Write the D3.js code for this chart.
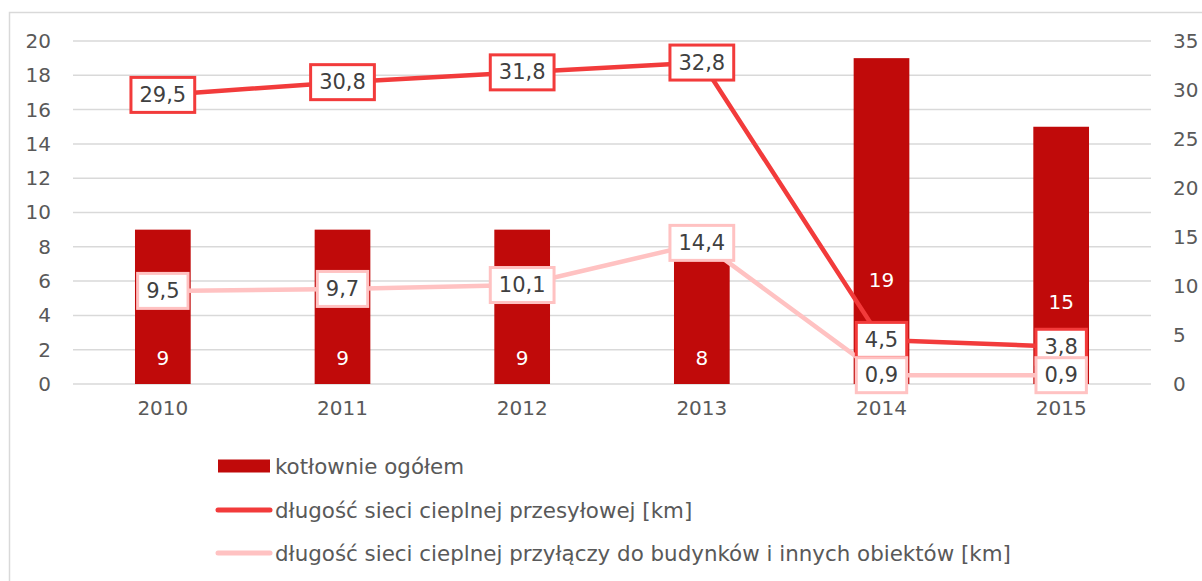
<!DOCTYPE html>
<html><head><meta charset="utf-8">
<script src="https://cdn.jsdelivr.net/npm/d3@7"></script>
<style>
html,body{margin:0;padding:0;background:#fff;}
svg text{font-family:"DejaVu Sans",Verdana,sans-serif;}
</style></head>
<body><svg id="c" width="1202" height="581"></svg>
<script>
const years = ["2010","2011","2012","2013","2014","2015"];
const kotlownie = [9, 9, 9, 8, 19, 15];
const siecPrzesylowa = [29.5, 30.8, 31.8, 32.8, 4.5, 3.8];
const siecPrzylacza = [9.5, 9.7, 10.1, 14.4, 0.9, 0.9];
const leftTicks = [0,2,4,6,8,10,12,14,16,18,20];
const rightTicks = [0,5,10,15,20,25,30,35];
const legendLabels = ["kotłownie ogółem","długość sieci cieplnej przesyłowej [km]","długość sieci cieplnej przyłączy do budynków i innych obiektów [km]"];

const fmt = v => String(v).replace(".", ",");
const svg = d3.select("#c");
const L = 73, R = 1151, T = 41, B = 384;
const colBar = "#C00A0A", colL1 = "#F23B3B", colL2 = "#FFC2C2";

svg.append("rect").attr("x",9.5).attr("y",12.5).attr("width",1200).attr("height",580)
  .attr("fill","none").attr("stroke","#D9D9D9").attr("stroke-width",1.5);

const x = d3.scaleBand().domain(years).range([L,R]).paddingInner(0.69).paddingOuter(0.345);
const yL = d3.scaleLinear().domain([0,20]).range([B,T]);
const yR = d3.scaleLinear().domain([0,35]).range([B,T]);

// gridlines
svg.append("g").selectAll("line").data(leftTicks).join("line")
  .attr("x1",L).attr("x2",R).attr("y1",d=>yL(d)).attr("y2",d=>yL(d))
  .attr("stroke","#D9D9D9").attr("stroke-width",1.5);

// left axis
const axL = svg.append("g").attr("transform",`translate(${L},0)`)
  .call(d3.axisLeft(yL).tickValues(leftTicks).tickSize(0).tickPadding(22));
axL.select(".domain").remove();
axL.selectAll("text").attr("font-size",20).attr("fill","#595959");

// right axis
const axR = svg.append("g").attr("transform",`translate(${R},0)`)
  .call(d3.axisRight(yR).tickValues(rightTicks).tickSize(0).tickPadding(22));
axR.select(".domain").remove();
axR.selectAll("text").attr("font-size",20).attr("fill","#595959");

// x axis
const axX = svg.append("g").attr("transform",`translate(0,${B})`)
  .call(d3.axisBottom(x).tickSize(0).tickPadding(17));
axX.select(".domain").remove();
axX.selectAll("text").attr("font-size",20).attr("fill","#595959");

// bars
svg.append("g").selectAll("rect").data(years).join("rect")
  .attr("x",d=>x(d)).attr("width",x.bandwidth())
  .attr("y",(d,i)=>yL(kotlownie[i])).attr("height",(d,i)=>B-yL(kotlownie[i]))
  .attr("fill",colBar);

// bar labels (near base for short bars, raised for tall bars)
svg.append("g").selectAll("text").data(years).join("text")
  .attr("x",d=>x(d)+x.bandwidth()/2)
  .attr("y",(d,i)=> kotlownie[i] > 12 ? yL(kotlownie[i]*0.32) : yL(1.5))
  .attr("text-anchor","middle").attr("dominant-baseline","central")
  .attr("font-size",20).attr("fill","#fff")
  .text((d,i)=>kotlownie[i]);

// lines
const cx = d => x(d)+x.bandwidth()/2;
function drawLine(vals,col){
  svg.append("path").datum(years)
    .attr("d",d3.line().x(cx).y((d,i)=>yR(vals[i])))
    .attr("fill","none").attr("stroke",col).attr("stroke-width",4.5)
    .attr("stroke-linejoin","round").attr("stroke-linecap","round");
}
drawLine(siecPrzylacza,colL2);
drawLine(siecPrzesylowa,colL1);

function drawLabels(vals,col){
  const g = svg.append("g").selectAll("g").data(years).join("g")
    .attr("transform",(d,i)=>`translate(${cx(d)},${yR(vals[i])})`);
  const t = g.append("text").attr("text-anchor","middle").attr("dominant-baseline","central")
    .attr("font-size",21).attr("fill","#404040").text((d,i)=>fmt(vals[i]));
  t.each(function(){
    const bb = this.getBBox();
    d3.select(this.parentNode).insert("rect","text")
      .attr("x",-bb.width/2-8.5).attr("y",-17.5).attr("width",bb.width+17).attr("height",35)
      .attr("fill","#fff").attr("stroke",col).attr("stroke-width",3);
  });
}
drawLabels(siecPrzesylowa,colL1);
drawLabels(siecPrzylacza,colL2);

// legend
const lg = svg.append("g");
const ly = [466, 510, 553];
lg.append("rect").attr("x",218).attr("y",ly[0]-6.5).attr("width",52).attr("height",13).attr("fill",colBar);
lg.append("line").attr("x1",218).attr("x2",270).attr("y1",ly[1]).attr("y2",ly[1])
  .attr("stroke",colL1).attr("stroke-width",5).attr("stroke-linecap","round");
lg.append("line").attr("x1",218).attr("x2",270).attr("y1",ly[2]).attr("y2",ly[2])
  .attr("stroke",colL2).attr("stroke-width",5).attr("stroke-linecap","round");
lg.selectAll("text").data(legendLabels).join("text")
  .attr("x",275).attr("y",(d,i)=>ly[i]).attr("dominant-baseline","central")
  .attr("font-size",21.4).attr("fill","#595959").text(d=>d);
</script>
</body></html>
